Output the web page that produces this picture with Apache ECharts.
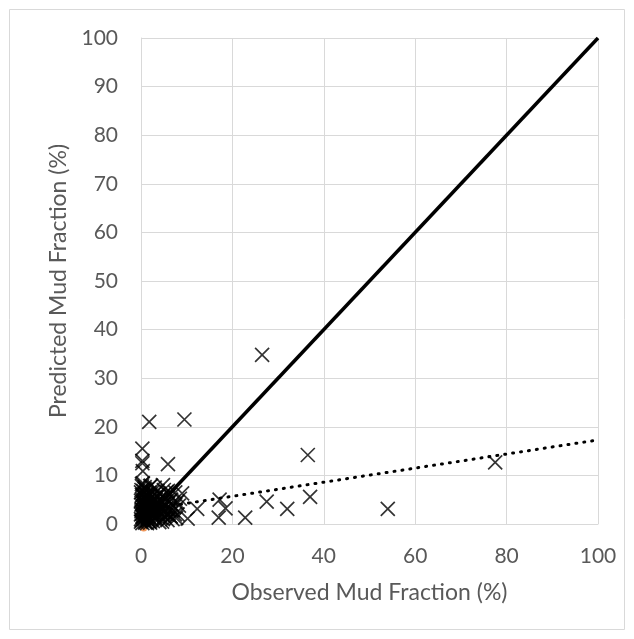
<!DOCTYPE html>
<html>
<head>
<meta charset="utf-8">
<script src="https://cdn.jsdelivr.net/npm/echarts@6/dist/echarts.min.js"></script>
<style>
  html, body { margin: 0; padding: 0; background: #fff; }
  #chart { width: 634px; height: 639px; }
</style>
</head>
<body>
<div id="chart"></div>
<script>
// observed vs predicted mud fraction (%)
var observed = [26.5, 9.5, 1.8, 0.3, 0.3, 0.3, 0.4, 5.9, 36.5, 77.5, 37.0, 32.0, 27.5, 54.0, 22.8,
    18.5, 17.2, 17.0, 12.3, 10.2, 8.5, 9.0, 8.0, 7.5, 6.8, 6.5, 5.5, 5.0, 4.5, 4.0,
    3.5, 3.0, 2.5, 2.0, 1.5, 1.2, 0.8, 0.5, 0.2, 0.0, 0.1, 0.4, 0.7, 1.0, 1.3,
    1.7, 2.2, 2.8, 3.3, 3.8, 4.3, 4.8, 5.3, 5.8, 6.3, 7.0, 7.7, 8.3, 2.0, 1.5,
    1.0, 0.6, 0.3, 0.0, 0.2, 0.5, 0.9, 1.4, 2.4, 3.0, 3.6, 4.2, 5.0, 5.7, 6.6,
    7.2, 0.1, 0.4, 0.8, 1.2, 1.8, 2.6, 3.4, 4.6, 0.0, 0.3, 0.6, 1.1, 1.6, 2.3,
    0.0, 0.2, 0.4, 0.6, 0.9, 1.1, 1.4, 1.9, 2.1, 2.7, 3.1, 3.9, 4.4, 5.1, 5.6,
    0.1, 0.3, 0.7, 1.0, 1.3, 1.6, 2.0, 2.5, 2.9, 3.4, 3.7, 4.1, 4.7, 5.2, 6.1,
    0.0, 0.2, 0.5, 0.8, 1.2, 1.5, 1.8, 2.2, 2.6, 3.2, 3.6, 4.0, 4.9, 5.5, 6.4,
    0.1, 0.4, 0.6, 0.9, 1.4, 1.7, 2.1, 2.4, 2.8, 3.3, 0.2, 0.5, 1.0, 1.5, 2.0,
    7.9, 6.9, 7.4, 6.2, 5.9, 4.8, 0.8, 0.4, 0.2, 1.3, 3.0, 2.2];
var predicted = [34.8, 21.5, 21.0, 15.5, 13.0, 12.5, 10.9, 12.3, 14.2, 12.7, 5.6, 3.1, 4.6, 3.1, 1.3,
    3.2, 5.0, 1.3, 3.1, 1.1, 5.2, 6.3, 2.0, 6.5, 4.0, 1.5, 5.5, 7.0, 3.0, 6.2,
    4.5, 7.5, 2.5, 6.0, 4.8, 3.5, 7.2, 5.5, 8.2, 6.5, 4.0, 2.0, 1.0, 0.5, 2.8,
    1.5, 3.8, 5.2, 1.2, 2.2, 4.8, 1.0, 3.0, 0.8, 6.0, 2.8, 1.2, 3.8, 0.3, 5.8,
    3.2, 2.5, 1.5, 0.5, 3.0, 4.2, 5.0, 0.8, 2.0, 1.0, 6.8, 2.5, 4.0, 2.0, 5.0,
    3.5, 7.0, 6.0, 1.8, 4.5, 2.6, 0.6, 5.8, 0.5, 2.0, 0.2, 3.6, 7.0, 1.0, 4.6,
    1.0, 2.2, 3.4, 4.6, 0.3, 1.8, 3.0, 4.2, 5.4, 3.6, 5.0, 4.0, 3.2, 1.6, 6.6,
    3.0, 5.0, 4.4, 6.0, 0.2, 3.6, 1.2, 4.4, 1.8, 3.8, 2.6, 1.4, 5.6, 4.4, 3.0,
    4.8, 0.8, 1.6, 2.8, 5.2, 1.2, 6.4, 2.8, 6.6, 2.2, 5.6, 0.4, 2.4, 3.2, 1.6,
    2.6, 1.4, 3.8, 2.2, 4.0, 0.6, 5.0, 1.8, 2.2, 4.2, 6.0, 6.8, 4.2, 5.6, 7.8,
    4.5, 1.0, 2.0, 4.6, 6.8, 8.0, 7.6, 8.4, 7.8, 6.2, 5.4, 7.9];
var originPoint = [[0.6, -0.8]];
var oneToOne = [[0, 0], [100, 100]];
var trend = [[0, 2.8], [100, 17.3]];
var xTicks = [0, 20, 40, 60, 80, 100];
var yTicks = [0, 10, 20, 30, 40, 50, 60, 70, 80, 90, 100];

var chart = echarts.init(document.getElementById('chart'));

var points = [];
for (var i = 0; i < observed.length; i++) {
    points.push([observed[i], predicted[i]]);
}

var fontName = 'Lato';
var gridLine = { color: '#d9d9d9', width: 1 };

var option = {
    animation: false,
    backgroundColor: '#fff',
    graphic: [{
        type: 'rect',
        shape: { x: 9.5, y: 9.5, width: 615, height: 620 },
        style: { fill: 'none', stroke: '#d9d9d9', lineWidth: 1 },
        silent: true
    }],
    grid: { left: 141, right: 36, top: 38, bottom: 115 },
    xAxis: {
        type: 'value',
        min: 0, max: 100, interval: 20,
        name: 'Observed Mud Fraction (%)',
        nameLocation: 'middle',
        nameGap: 57,
        nameTextStyle: { color: '#595959', fontSize: 23, fontFamily: fontName },
        axisLine: { show: true, lineStyle: gridLine },
        axisTick: { show: false },
        axisLabel: {
            margin: 22,
            color: '#595959', fontSize: 21, fontFamily: fontName,
            formatter: function (v) { return xTicks.indexOf(v) >= 0 ? String(v) : ''; }
        },
        splitLine: { show: true, lineStyle: gridLine }
    },
    yAxis: {
        type: 'value',
        min: 0, max: 100, interval: 10,
        name: 'Predicted Mud Fraction (%)',
        nameLocation: 'middle',
        nameGap: 71,
        nameTextStyle: { color: '#595959', fontSize: 23, fontFamily: fontName },
        axisLine: { show: true, lineStyle: gridLine },
        axisTick: { show: false },
        axisLabel: {
            margin: 23,
            color: '#595959', fontSize: 21, fontFamily: fontName,
            formatter: function (v) { return yTicks.indexOf(v) >= 0 ? String(v) : ''; }
        },
        splitLine: { show: true, lineStyle: gridLine }
    },
    series: [
        {
            name: 'Origin',
            type: 'scatter',
            data: originPoint,
            symbol: 'circle',
            symbolSize: 7,
            clip: false,
            itemStyle: { color: '#ed7d31' },
            z: 2
        },
        {
            name: 'Observed vs Predicted',
            type: 'scatter',
            data: points,
            symbol: 'path://M0,0L10,10M10,0L0,10',
            symbolSize: 14,
            clip: false,
            itemStyle: { color: 'none', borderColor: '#000', borderWidth: 1.7 },
            z: 3
        },
        {
            name: '1:1',
            type: 'line',
            data: oneToOne,
            symbol: 'none',
            lineStyle: { color: '#000', width: 3.5 },
            z: 4
        },
        {
            name: 'Trend',
            type: 'line',
            data: trend,
            symbol: 'none',
            lineStyle: { color: '#000', width: 3, type: [1, 7], cap: 'round' },
            z: 4
        }
    ]
};

chart.setOption(option);
</script>
</body>
</html>
